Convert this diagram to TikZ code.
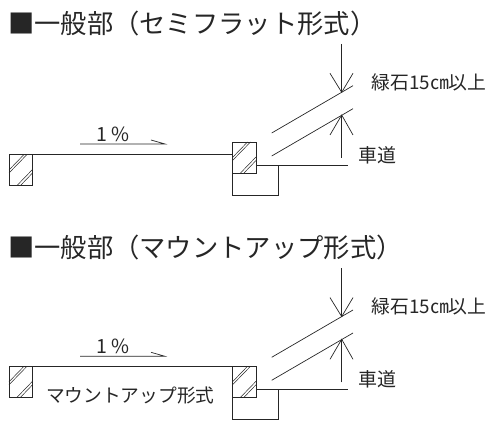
\documentclass[tikz,border=0pt]{standalone}
\usepackage{fontspec}
\newfontfamily\jp{Noto Sans CJK JP}
\tikzset{
  ln/.style={line width=0.9pt,draw=black!85},
  thin ln/.style={line width=0.7pt,draw=black!85},
  hatch ln/.style={line width=0.5pt,draw=black!85},
  ttl/.style={inner sep=0pt,anchor=west,text=black!85,font=\jp\fontsize{26.3}{27}\selectfont},
  lbl/.style={inner sep=0pt,anchor=west,text=black!85,font=\jp\fontsize{18.8}{20}\selectfont},
}
\newcommand{\hatchbox}[2]{%
  \begin{scope}[shift={(#1,#2)}]
    \draw[ln] (0,0) rectangle (23.5,31);
    \draw[hatch ln] (0,15.5) -- (15,0) (0,18.5) -- (18,0);
    \draw[hatch ln] (8,31) -- (23.5,15) (11.5,31) -- (23.5,18.5);
  \end{scope}}
\newcommand{\curbpart}[1]{%
  \begin{scope}[shift={(0,#1)}]
    \coordinate (tl) at (232.5,173);
    \coordinate (bl) at (232.5,195);
    \coordinate (br) at (278.2,195);
    \coordinate (rt) at (278.2,165);
    \coordinate (rs) at (255.8,165);
    \coordinate (re) at (348,165);
    \draw[ln] (tl) -- (bl) -- (br) -- (rt);
    \draw[ln] (rs) -- (re);
    \coordinate (a1) at (271.7,133);
    \coordinate (a2) at (353,85.7);
    \coordinate (b1) at (271.7,156);
    \coordinate (b2) at (353,108.7);
    \draw[thin ln] (a1) -- (a2);
    \draw[thin ln] (b1) -- (b2);
    \coordinate (dtop) at (341.7,44);
    \coordinate (dtip) at (341.7,92.3);
    \coordinate (dl) at (330,73.3);
    \coordinate (dr) at (353,73.3);
    \draw[thin ln] (dtop) -- (dtip);
    \draw[thin ln] (dl) -- (dtip) -- (dr);
    \coordinate (ubot) at (341.7,158);
    \coordinate (utip) at (341.7,115);
    \coordinate (ul) at (330,135);
    \coordinate (ur) at (353,135);
    \draw[thin ln] (ubot) -- (utip);
    \draw[thin ln] (ul) -- (utip) -- (ur);
    \node[lbl] (curb) at (371.5,82) {緑石15㎝以上};
    \node[lbl] (road) at (358,155) {\fontsize{19}{20}\selectfont 車道};
  \end{scope}}
\begin{document}
\begin{tikzpicture}[x=1pt,y=-1pt]
\useasboundingbox (0,0) rectangle (491,422);
% top
\node[ttl] (t1) at (8,23.5) {■一般部（セミフラット形式）};
\hatchbox{9}{154.5}
\hatchbox{232.5}{142}
\draw[ln] (32.5,154.5) -- (232.5,154.5);
\coordinate (s1a) at (80,144); \coordinate (s1b) at (165,144); \coordinate (s1c) at (151,140);
\draw[thin ln] (s1a) -- (s1b) -- (s1c);
\node[inner sep=0pt,text=black!85,font=\jp\fontsize{19.5}{20}\selectfont] (p1) at (113,134) {1 \%};
\curbpart{0}
% bottom
\node[ttl] (t2) at (8,247.5) {■一般部（マウントアップ形式）};
\hatchbox{9}{366.3}
\hatchbox{232.5}{366.3}
\draw[ln] (32.5,366.3) -- (232.5,366.3);
\coordinate (s2a) at (80,356.3); \coordinate (s2b) at (165,356.3); \coordinate (s2c) at (151,352.3);
\draw[thin ln] (s2a) -- (s2b) -- (s2c);
\node[inner sep=0pt,text=black!85,font=\jp\fontsize{19.5}{20}\selectfont] (p2) at (113,346.5) {1 \%};
\node[inner sep=0pt,anchor=west,text=black!85,font=\jp\fontsize{18.7}{20}\selectfont] (m) at (46,395.7) {マウントアップ形式};
\curbpart{224.3}
\end{tikzpicture}
\end{document}
